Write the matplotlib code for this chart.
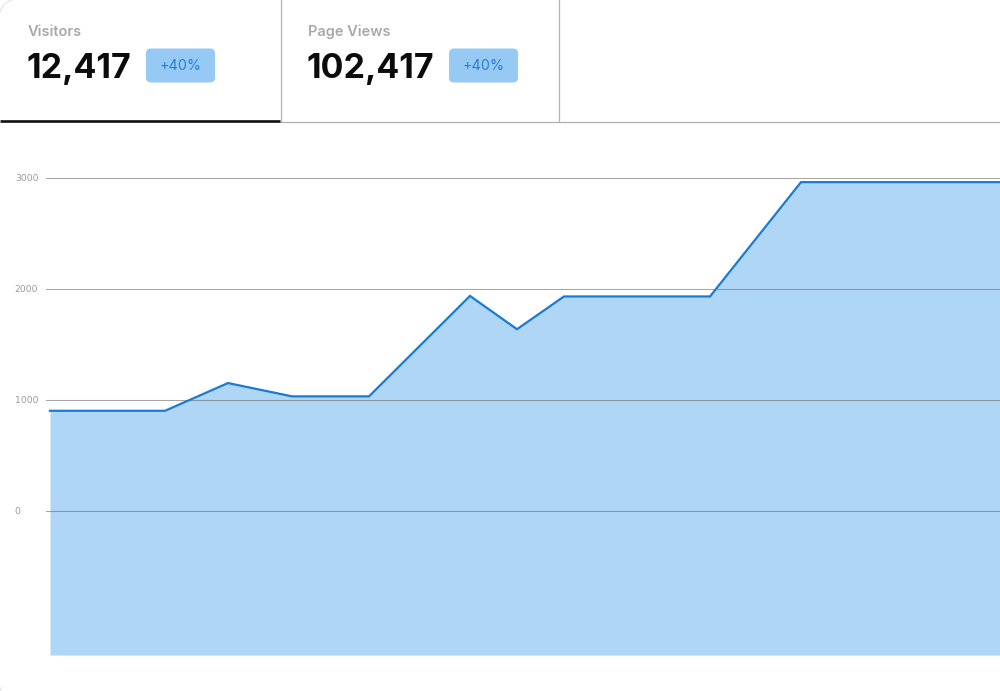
import matplotlib
matplotlib.use("Agg")
import matplotlib.pyplot as plt
from matplotlib.patches import FancyBboxPatch
import numpy as np

# ---- data ----
x_pos = [0, 115, 178, 242, 319, 420, 467, 514, 660, 751, 950]
values = [900, 900, 1150, 1030, 1030, 1935, 1635, 1930, 1930, 2960, 2960]
y_ticks = [0, 1000, 2000, 3000]
y_tick_labels = ["0", "1000", "2000", "3000"]
stat_titles = ["Visitors", "Page Views"]
stat_values = ["12,417", "102,417"]
stat_changes = ["+40%", "+40%"]

W, H = 1000, 691
fig = plt.figure(figsize=(W / 100, H / 100), dpi=100)
fig.patch.set_facecolor("white")

# pixel-coordinate overlay axes for header elements
bg = fig.add_axes([0, 0, 1, 1], zorder=0)
bg.set_xlim(0, W)
bg.set_ylim(H, 0)
bg.axis("off")

# card outline (rounded corners, edges just outside the canvas)
card = FancyBboxPatch((-1.2, -1.2), 1100, 702, boxstyle="round,pad=0,rounding_size=22",
                      facecolor="white", edgecolor="#e2e2e2", lw=0.8)
bg.add_patch(card)

# tab dividers and bottom lines
bg.plot([280.5, 280.5], [0, 121], color="#b4b4b4", lw=0.9)
bg.plot([558.5, 558.5], [0, 121], color="#b4b4b4", lw=0.9)
bg.plot([280, 1000], [121.5, 121.5], color="#b0b0b0", lw=0.9)
bg.plot([0, 280], [121, 121], color="#111111", lw=1.9, solid_capstyle="butt")

tab_left = [27.5, 307.5]
badge_left = [146, 449]
for i in range(2):
    bg.text(tab_left[i], 36, stat_titles[i], family="Inter", fontsize=10.5,
            fontweight="semibold", color="#a8a8a8", ha="left", va="baseline")
    bg.text(tab_left[i] - 1, 77.5, stat_values[i], family="Inter", fontsize=24.5,
            fontweight="bold", color="#0b0b0b", ha="left", va="baseline")
    bx = badge_left[i]
    badge = FancyBboxPatch((bx, 48.5), 69, 34, boxstyle="round,pad=0,rounding_size=5",
                           facecolor="#97c9f5", edgecolor="none")
    bg.add_patch(badge)
    bg.text(bx + 34.5, 66, stat_changes[i], family="Inter", fontsize=10.3,
            color="#2a7ed2", ha="center", va="center")

# ---- chart axes ----
ymin, ymax = -1300, 3350
px_per_unit = 0.111
ax_h = (ymax - ymin) * px_per_unit
bottom_px = 655
ax = fig.add_axes([46 / W, (H - bottom_px) / H, 954 / W, ax_h / H], zorder=1)
ax.set_facecolor("none")
ax.set_xlim(-4, 950)
ax.set_ylim(ymin, ymax)

ax.fill_between(x_pos, values, ymin, color="#b0d6f5", lw=0, zorder=1)
ax.plot(x_pos, values, color="#1a7bd2", lw=1.6, zorder=3, solid_joinstyle="miter")

ax.set_yticks(y_ticks)
ax.set_yticklabels(y_tick_labels)
for lab in ax.get_yticklabels():
    lab.set_horizontalalignment("left")
    lab.set_family("DejaVu Sans")
ax.tick_params(axis="y", length=0, pad=22.5, labelsize=6.7, labelcolor="#9a9a9a")
ax.set_xticks([])
for s in ax.spines.values():
    s.set_visible(False)
ax.set_axisbelow(False)
ax.yaxis.grid(True, color="#707070", alpha=0.62, lw=0.75)
ax.xaxis.grid(False)

fig.savefig("out.png", dpi=100, facecolor="white")
